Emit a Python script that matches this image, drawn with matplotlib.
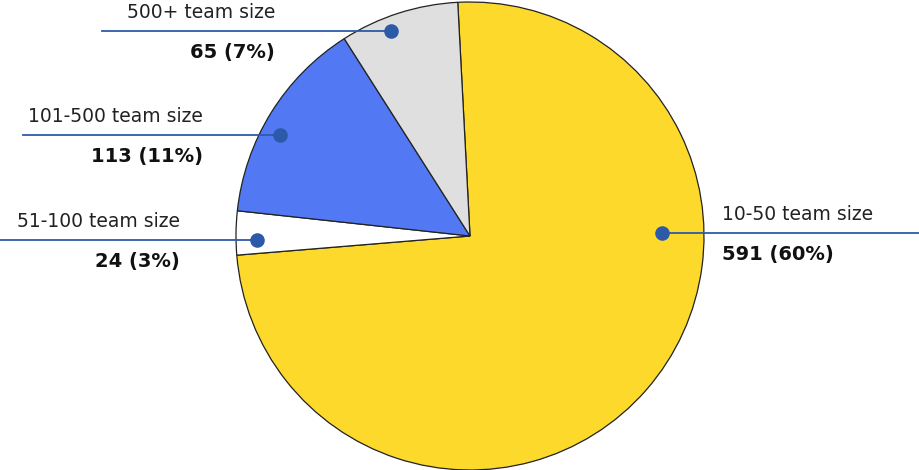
import numpy as np
import matplotlib.pyplot as plt

plt.rcParams['font.family'] = ['DejaVu Sans']

# data
categories = ['10-50 team size', '51-100 team size', '101-500 team size', '500+ team size']
counts = [591, 24, 113, 65]
percents = [60, 3, 11, 7]
colors = ['#FDD92C', '#FFFFFF', '#5279F3', '#DFDFDF']

# layout of the callouts: dot angle/radius, line end, text x, alignment
dot_angle = [1, 181, 152, 111]
dot_rad = [0.82, 0.91, 0.92, 0.94]
line_end = [919, 0, 23, 102]
text_x = [722, 180, 203, 275]
text_ha = ['left', 'right', 'right', 'right']

W, H = 919, 470
cx, cy, R = 470, 234, 234
line_col = '#2D5AA8'

fig = plt.figure(figsize=(W / 100, H / 100), dpi=100)
ax = fig.add_axes([0, 0, 1, 1])

ax.pie(counts, colors=colors, startangle=93, counterclock=False,
       center=(cx, cy), radius=R, frame=True,
       wedgeprops=dict(edgecolor='#222222', linewidth=0.9))
ax.set_xlim(0, W)
ax.set_ylim(0, H)
ax.set_aspect('equal')
ax.axis('off')

for i in range(len(counts)):
    a = np.deg2rad(dot_angle[i])
    dx = cx + dot_rad[i] * R * np.cos(a)
    dy = cy + dot_rad[i] * R * np.sin(a)
    ax.plot([line_end[i], dx], [dy, dy], color=line_col, lw=1.3, zorder=5)
    ax.scatter([dx], [dy], s=110, color=line_col, zorder=6, linewidths=0)
    ax.text(text_x[i], dy + 18, categories[i], ha=text_ha[i], va='center',
            fontsize=13.5, color='#222222')
    ax.text(text_x[i], dy - 22, '%d (%d%%)' % (counts[i], percents[i]),
            ha=text_ha[i], va='center', fontsize=14, fontweight='bold', color='#111111')

fig.savefig('out.png', dpi=100)
